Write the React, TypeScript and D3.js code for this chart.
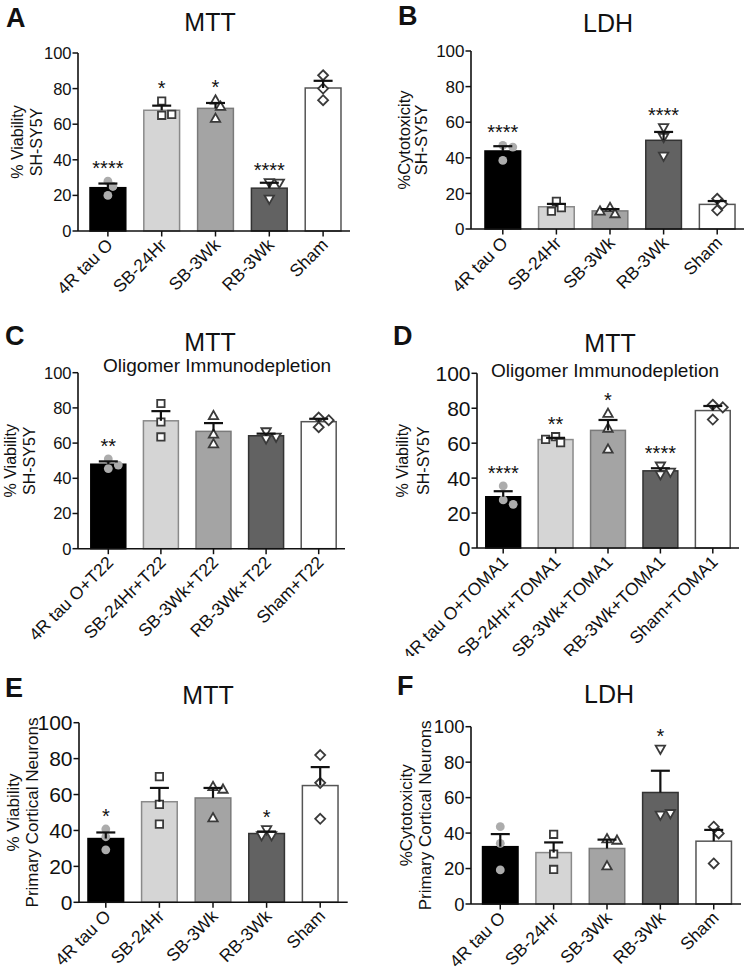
import React from "react";
import * as d3 from "d3";

// ---------- DATA ----------
const catsBase = ["4R tau O", "SB-24Hr", "SB-3Wk", "RB-3Wk", "Sham"];
const catsT22 = ["4R tau O+T22", "SB-24Hr+T22", "SB-3Wk+T22", "RB-3Wk+T22", "Sham+T22"];
const catsTOMA1 = ["4R tau O+TOMA1", "SB-24Hr+TOMA1", "SB-3Wk+TOMA1", "RB-3Wk+TOMA1", "Sham+TOMA1"];
const yTicks = [0, 20, 40, 60, 80, 100];

const valuesA = [[28, 25, 20], [73, 65, 65.5], [73.5, 70, 63.2], [27.2, 27, 18], [87.5, 80, 73.5]];
const starsA = ["****", "*", "*", "****", ""];
const valuesB = [[47, 46, 38.5], [15.5, 12, 10], [12, 8.5, 10], [57, 51.5, 41], [17, 14, 10.5]];
const starsB = ["****", "", "", "****", ""];
const valuesC = [[51, 45.5, 47.5], [82.5, 72, 63.5], [75.5, 65, 59.5], [66.5, 62.5, 63.5], [74.5, 69, 73]];
const starsC = ["**", "", "", "", ""];
const valuesD = [[35.5, 27.5, 25], [63.7, 60.3, 62.2], [77, 68.5, 56.5], [47, 42, 43.5], [82, 80.5, 73.5]];
const starsD = ["****", "**", "*", "****", ""];
const valuesE = [[40.8, 36.5, 29.2], [70, 54.5, 43.5], [64.4, 62.9, 47], [40.5, 37.2, 37.2], [82, 66.5, 46.5]];
const starsE = ["*", "", "", "*", ""];
const valuesF = [[43.6, 34.2, 19.2], [39.3, 28.2, 19.5], [36.7, 35.9, 21.4], [87.4, 50.2, 51.1], [43.6, 39.8, 22.9]];
const starsF = ["", "", "", "*", ""];

// ---------- STYLE ----------
const FONT = "Arial, 'Liberation Sans', Helvetica, sans-serif";
const barFill = ["#000000", "#d5d5d5", "#a4a4a4", "#626262", "#ffffff"];
const barStroke = ["#000000", "#8a8a8a", "#7a7a7a", "#333333", "#555555"];
const shapes = ["circle", "square", "up", "down", "diamond"];

type Panel = {
  letter: string; letterPos: [number, number];
  title: string; titlePos: [number, number];
  subtitle?: string; subPos?: [number, number];
  x0: number; xr: [number, number]; xEnd: number; yTop: number; yBot: number;
  yTitle: [string, string]; yTitleOff: [number, number]; yTitleFont: number; tickFont: number;
  cats: string[]; values: number[][]; stars: string[]; clipBottom?: number;
};

const panels: Panel[] = [
  { letter: "A", letterPos: [6, 27], title: "MTT", titlePos: [210, 31], x0: 78, xr: [81, 350], xEnd: 350, yTop: 53, yBot: 231,
    yTitle: ["% Viability", "SH-SY5Y"], yTitleOff: [-55, -36], yTitleFont: 16, tickFont: 16.5, cats: catsBase, values: valuesA, stars: starsA },
  { letter: "B", letterPos: [398, 25], title: "LDH", titlePos: [608, 32], x0: 471, xr: [476, 744], xEnd: 744, yTop: 51, yBot: 229,
    yTitle: ["%Cytotoxicity", "SH-SY5Y"], yTitleOff: [-61, -44], yTitleFont: 16.5, tickFont: 17, cats: catsBase, values: valuesB, stars: starsB },
  { letter: "C", letterPos: [5, 345], title: "MTT", titlePos: [210, 351], subtitle: "Oligomer Immunodepletion", subPos: [217, 372],
    x0: 78, xr: [82, 345], xEnd: 345, yTop: 372.7, yBot: 548.7,
    yTitle: ["% Viability", "SH-SY5Y"], yTitleOff: [-62, -43], yTitleFont: 16, tickFont: 16.5, cats: catsT22, values: valuesC, stars: starsC },
  { letter: "D", letterPos: [393, 345], title: "MTT", titlePos: [610, 352], subtitle: "Oligomer Immunodepletion", subPos: [605, 377],
    x0: 477, xr: [477, 739], xEnd: 739, yTop: 373.3, yBot: 548,
    yTitle: ["% Viability", "SH-SY5Y"], yTitleOff: [-69, -48], yTitleFont: 16, tickFont: 21, cats: catsTOMA1, values: valuesD, stars: starsD, clipBottom: 656 },
  { letter: "E", letterPos: [5, 697], title: "MTT", titlePos: [208, 704], x0: 79, xr: [79, 347], xEnd: 347.7, yTop: 722.7, yBot: 902.3,
    yTitle: ["% Viability", "Primary Cortical Neurons"], yTitleOff: [-60, -41], yTitleFont: 17, tickFont: 21, cats: catsBase, values: valuesE, stars: starsE },
  { letter: "F", letterPos: [397, 695], title: "LDH", titlePos: [609, 703], x0: 471, xr: [473.6, 740.4], xEnd: 741, yTop: 726.7, yBot: 904,
    yTitle: ["%Cytotoxicity", "Primary Cortical Neurons"], yTitleOff: [-59, -40], yTitleFont: 17, tickFont: 18.5, cats: catsBase, values: valuesF, stars: starsF },
];

function markerPath(shape: string, x: number, y: number): string {
  switch (shape) {
    case "square": return `M${x - 3.7},${y - 3.7}h7.4v7.4h-7.4Z`;
    case "up": return `M${x},${y - 4.9}L${x + 4.7},${y + 3.4}L${x - 4.7},${y + 3.4}Z`;
    case "down": return `M${x},${y + 4.9}L${x + 4.7},${y - 3.4}L${x - 4.7},${y - 3.4}Z`;
    case "diamond": return `M${x},${y - 5}L${x + 5},${y}L${x},${y + 5}L${x - 5},${y}Z`;
    default: return "";
  }
}

function swarm(ys: number[]): number[] {
  const placed: [number, number][] = [];
  const cands = [0, 5, -5, 10, -10, 15, -15];
  return ys.map((y) => {
    let off = 0;
    for (const c of cands) {
      if (placed.every(([px, py]) => Math.hypot(px - c, py - y) >= 7)) { off = c; break; }
    }
    placed.push([off, y]);
    return off;
  });
}

function PanelView({ p, idx }: { p: Panel; idx: number }) {
  const y = d3.scaleLinear().domain([0, 100]).range([p.yBot, p.yTop]);
  const x = d3.scalePoint<string>().domain(p.cats).range(p.xr).padding(0.5);
  const bw = x.step() * 0.665;
  const yMid = (p.yTop + p.yBot) / 2;
  const clipId = `clip${idx}`;
  return (
    <g fontFamily={FONT} fill="#111">
      {p.clipBottom && (
        <defs><clipPath id={clipId}><rect x={0} y={0} width={748} height={p.clipBottom} /></clipPath></defs>
      )}
      <text x={p.letterPos[0]} y={p.letterPos[1]} fontSize={27} fontWeight="bold">{p.letter}</text>
      <text x={p.titlePos[0]} y={p.titlePos[1]} fontSize={25} textAnchor="middle">{p.title}</text>
      {p.subtitle && p.subPos && (
        <text x={p.subPos[0]} y={p.subPos[1]} fontSize={19} textAnchor="middle">{p.subtitle}</text>
      )}
      {p.yTitle.map((t, i) => (
        <text key={i} transform={`translate(${p.x0 + p.yTitleOff[i]},${yMid}) rotate(-90)`} fontSize={p.yTitleFont} textAnchor="middle">{t}</text>
      ))}
      {p.cats.map((c, i) => {
        const vals = p.values[i];
        const mean = d3.mean(vals) as number;
        const sem = (d3.deviation(vals) as number) / Math.sqrt(vals.length);
        const cx = x(c) as number;
        const offs = swarm(vals.map((v) => y(v)));
        const top = Math.max(d3.max(vals) as number, mean + sem);
        return (
          <g key={c}>
            <rect x={cx - bw / 2} y={y(mean)} width={bw} height={y(0) - y(mean)} fill={barFill[i]} stroke={barStroke[i]} strokeWidth={1.5} />
            {vals.map((v, j) => shapes[i] === "circle" ? (
              <circle key={j} cx={cx + offs[j]} cy={y(v)} r={4.4} fill="#acacac" />
            ) : (
              <path key={j} d={markerPath(shapes[i], cx + offs[j], y(v))} fill="#ffffff" stroke="#3a3a3a" strokeWidth={1.8} />
            ))}
            <line x1={cx} x2={cx} y1={y(mean)} y2={y(mean + sem)} stroke="#111" strokeWidth={2.2} />
            <line x1={cx - 9.5} x2={cx + 9.5} y1={y(mean + sem)} y2={y(mean + sem)} stroke="#111" strokeWidth={2.2} />
            {p.stars[i] && (
              <text x={cx} y={y(top) - 6} fontSize={20} textAnchor="middle">{p.stars[i]}</text>
            )}
          </g>
        );
      })}
      <line x1={p.x0} x2={p.x0} y1={p.yTop} y2={p.yBot} stroke="#111" strokeWidth={1.6} />
      <line x1={p.x0} x2={p.xEnd} y1={p.yBot} y2={p.yBot} stroke="#111" strokeWidth={1.6} />
      {yTicks.map((t) => (
        <g key={t}>
          <line x1={p.x0 - 5.5} x2={p.x0} y1={y(t)} y2={y(t)} stroke="#111" strokeWidth={1.5} />
          <text x={p.x0 - 6.5} y={y(t)} dy="0.36em" fontSize={p.tickFont} textAnchor="end">{t}</text>
        </g>
      ))}
      <g clipPath={p.clipBottom ? `url(#${clipId})` : undefined}>
        {p.cats.map((c) => {
          const cx = x(c) as number;
          return (
            <g key={c}>
              <line x1={cx} x2={cx} y1={p.yBot} y2={p.yBot + 5.5} stroke="#111" strokeWidth={1.5} />
              <text transform={`translate(${cx + 6},${p.yBot + 15}) rotate(-45)`} fontSize={17.5} textAnchor="end">{c}</text>
            </g>
          );
        })}
      </g>
    </g>
  );
}

export default function App() {
  return (
    <svg width={748} height={973} viewBox="0 0 748 973" style={{ position: "absolute", left: 0, top: 0, background: "#fff" }}>
      <rect x={0} y={0} width={748} height={973} fill="#fff" />
      {panels.map((p, i) => <PanelView key={p.letter} p={p} idx={i} />)}
    </svg>
  );
}
